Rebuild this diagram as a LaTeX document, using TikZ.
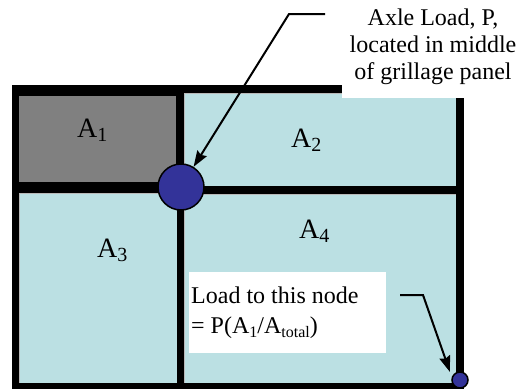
\documentclass[tikz,border=0pt]{standalone}
\usepackage{fontspec}
\setmainfont{Liberation Serif}
\usetikzlibrary{arrows.meta}
\definecolor{paneblue}{RGB}{187,224,227}
\definecolor{panegray}{RGB}{128,128,128}
\definecolor{loadblue}{RGB}{51,51,153}
\newcommand\lsub[3]{\raisebox{-#2}{\fontsize{#1}{#1}\selectfont #3}}
\tikzset{
  pane/.style={fill=paneblue, draw=gray!55, line width=0.4pt},
  beam/.style={fill=black},
  load/.style={circle, fill=loadblue, draw=black, line width=1.5pt, inner sep=0pt},
  lbl/.style={inner sep=0pt, font=\fontsize{24}{27}\selectfont},
  alab/.style={inner sep=0pt, anchor=base west, font=\fontsize{28}{30}\selectfont},
  leader/.style={line width=2pt, -{Stealth[length=16pt,width=11pt,inset=2pt]}}
}
\begin{document}
\begin{tikzpicture}[x=1pt,y=-1pt]
\useasboundingbox (0,0) rectangle (517,389);
\fill[white] (0,0) rectangle (517,389);
% panes
\path[pane] (184,93) rectangle (456,186);
\path[pane] (19,193) rectangle (177,383);
\path[pane] (184,194) rectangle (456,383);
% beams
\fill[beam] (12,85) rectangle (464,93);
\fill[beam] (12,85) rectangle (184,96);
\fill[beam] (12,85) rectangle (19,389);
\fill[beam] (456,85) rectangle (464,389);
\fill[beam] (12,383) rectangle (464,389);
\fill[beam] (176,93) rectangle (184,186);
\fill[beam] (177,186) rectangle (184,383);
\fill[beam] (19,182) rectangle (181,193);
\fill[beam] (181,186) rectangle (456,194);
% loaded panel
\fill[panegray] (19,96) rectangle (176,182);
% label backgrounds
\fill[white] (342,0) rectangle (517,98);
\fill[white] (189,272) rectangle (386,353);
% nodes
\node[load, minimum size=46pt] (bigc) at (181,187) {};
\node[load, minimum size=16pt] (smallc) at (460,380) {};
% area labels
\node[alab] (a1) at (77,137) {A\lsub{20}{4pt}{1}};
\node[alab] (a2) at (291,147) {A\lsub{20}{4pt}{2}};
\node[alab] (a3) at (97,257) {A\lsub{20}{4pt}{3}};
\node[alab] (a4) at (299,238) {A\lsub{20}{4pt}{4}};
% texts
\node[lbl, anchor=base] (t1) at (433,25) {Axle Load, P,};
\node[lbl, anchor=base] (t2) at (433,52) {located in middle};
\node[lbl, anchor=base] (t3) at (433,79) {of grillage panel};
\node[lbl, anchor=base west] (b1) at (191,303) {Load to this node};
\node[lbl, anchor=base west] (b2) at (191,333) {= P(A\lsub{16}{4pt}{1}/A\lsub{16}{4pt}{total})};
% leaders
\coordinate (p1) at (325,14);
\coordinate (p2) at (289,14);
\draw[leader] (p1) -- (p2) -- (bigc);
\coordinate (q1) at (400,295);
\coordinate (q2) at (423,295);
\coordinate (q3) at (450,372);
\draw[leader] (q1) -- (q2) -- (q3);
\end{tikzpicture}
\end{document}
